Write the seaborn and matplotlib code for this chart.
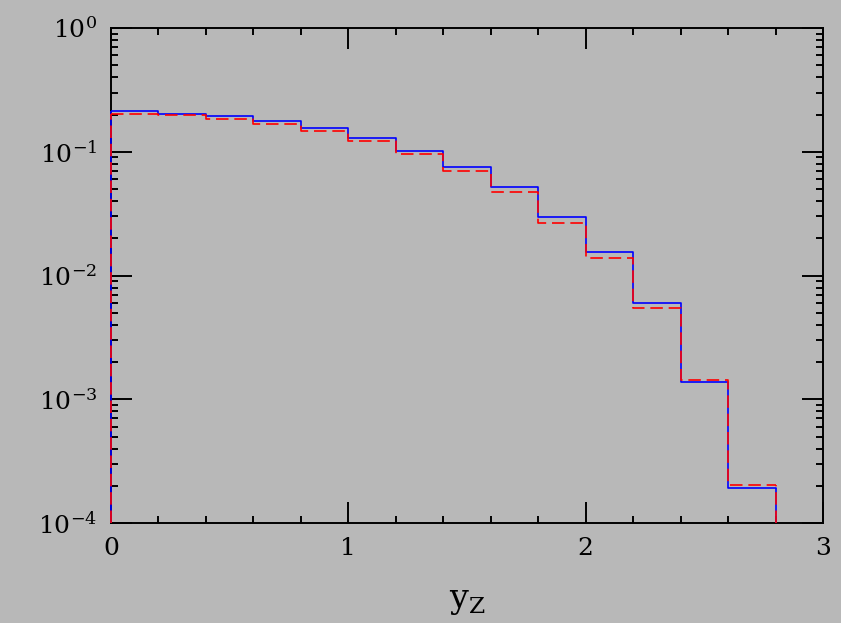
import numpy as np
import pandas as pd
import seaborn as sns
import matplotlib.pyplot as plt
from matplotlib.ticker import MultipleLocator, LogLocator, NullFormatter

# bin edges in y_Z and the two distributions
edges = [0.0, 0.2, 0.4, 0.6, 0.8, 1.0, 1.2, 1.4, 1.6, 1.8, 2.0, 2.2, 2.4, 2.6, 2.8]
blue_vals = [0.213, 0.201, 0.194, 0.176, 0.155, 0.130, 0.102, 0.0749, 0.0516,
             0.0299, 0.0154, 0.00603, 0.00137, 0.000193]
red_vals = [0.202, 0.197, 0.184, 0.168, 0.146, 0.122, 0.0953, 0.0699, 0.0470,
            0.0266, 0.0139, 0.00546, 0.00143, 0.000203]

bg = '#b8b8b8'
sns.set_style('ticks')
plt.rcParams['font.family'] = ['DejaVu Serif']
plt.rcParams['mathtext.fontset'] = 'dejavuserif'

centers = [(a + b) / 2 for a, b in zip(edges[:-1], edges[1:])]
df = pd.DataFrame({'yz': centers, 'blue': blue_vals, 'red': red_vals})

fig = plt.figure(figsize=(8.41, 6.23), dpi=100, facecolor=bg)
ax = fig.add_axes([0.132, 0.1605, 0.8466, 0.7945])
ax.set_facecolor(bg)
ax.set_yscale('log')
ymin = 1e-4

styles = {
    'blue': dict(color='#0000ff', linewidth=1.2, linestyle='-'),
    'red': dict(color='#ff0000', linewidth=1.2, linestyle=(0, (7.5, 3.5))),
}
for i, col in enumerate(['blue', 'red']):
    sns.histplot(data=df, x='yz', weights=col, bins=edges, element='step',
                 fill=False, ax=ax, zorder=3 + i, **styles[col])
    vals = df[col].values
    ax.vlines([edges[0], edges[-1]], ymin, [vals[0], vals[-1]],
              zorder=3 + i, clip_on=False, **styles[col])

ax.set_xlim(0, 3)
ax.set_ylim(ymin, 1)
ax.xaxis.set_major_locator(MultipleLocator(1))
ax.xaxis.set_minor_locator(MultipleLocator(0.2))
ax.yaxis.set_major_locator(LogLocator(base=10, numticks=10))
ax.yaxis.set_minor_locator(LogLocator(base=10, subs=np.arange(2, 10), numticks=20))
ax.yaxis.set_minor_formatter(NullFormatter())
ax.tick_params(which='both', direction='in', top=True, right=True, width=1.4,
               labelsize=18, colors='black')
ax.tick_params(which='major', length=15, pad=10)
ax.tick_params(which='minor', length=5)
for s in ax.spines.values():
    s.set_linewidth(1.4)
    s.set_color('black')

ax.set_xlabel(r'$\mathrm{y}_\mathrm{Z}$', fontsize=24, labelpad=18, color='black')
ax.set_ylabel('')

fig.savefig('out.png', dpi=100, facecolor=bg)
